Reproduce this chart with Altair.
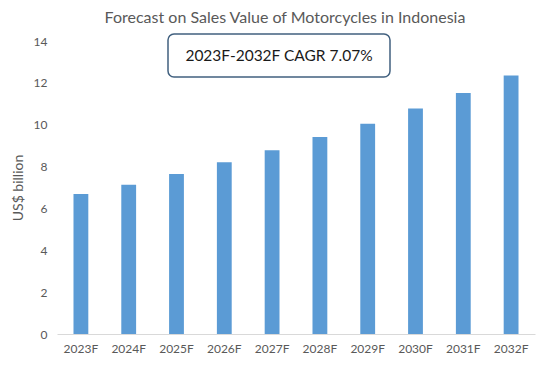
import altair as alt
import pandas as pd

years = ["2023F", "2024F", "2025F", "2026F", "2027F", "2028F", "2029F", "2030F", "2031F", "2032F"]
values = [6.69, 7.13, 7.64, 8.21, 8.78, 9.41, 10.05, 10.78, 11.52, 12.35]
title_text = "Forecast on Sales Value of Motorcycles in Indonesia"
cagr_text = "2023F-2032F CAGR 7.07%"

df = pd.DataFrame({"year": years, "value": values})
FONT = "Lato"
GRAY = "#595959"

bars = alt.Chart(df).mark_bar(color="#5B9BD5").encode(
    x=alt.X("year:N", sort=years, title=None,
            scale=alt.Scale(paddingInner=0.69, paddingOuter=0.345),
            axis=alt.Axis(labelAngle=0, ticks=False, domainColor="#D9D9D9",
                          labelColor=GRAY, labelFont=FONT, labelFontSize=12, labelPadding=9)),
    y=alt.Y("value:Q", title="US$ billion",
            scale=alt.Scale(domain=[0, 14]),
            axis=alt.Axis(values=[0, 2, 4, 6, 8, 10, 12, 14], grid=False, domain=False, ticks=False,
                          labelColor=GRAY, labelFont=FONT, labelFontSize=12, labelPadding=10,
                          titleColor=GRAY, titleFont=FONT, titleFontSize=14, titleFontWeight="normal",
                          titlePadding=8)),
)

box = alt.Chart(pd.DataFrame({"t": [cagr_text]})).mark_rect(
    fill="white", stroke="#41607F", strokeWidth=1.5, cornerRadius=6
).encode(x=alt.value(111), x2=alt.value(333), y=alt.value(-7), y2=alt.value(36))

label = alt.Chart(pd.DataFrame({"t": [cagr_text]})).mark_text(
    font=FONT, fontSize=15.5, color="#1a1a1a", align="center", baseline="middle"
).encode(text="t:N", x=alt.value(222), y=alt.value(15))

chart = alt.layer(bars, box, label).properties(
    width=478, height=293,
    title=alt.TitleParams(title_text, font=FONT, fontSize=16, fontWeight="normal", color=GRAY,
                          offset=7, dx=-11),
    autosize=alt.AutoSizeParams(type="none"),
    padding={"left": 49, "top": 33, "right": 7, "bottom": 20},
).configure_view(stroke=None)

chart.save("out.html", embed_options={"renderer": "svg", "actions": False})
